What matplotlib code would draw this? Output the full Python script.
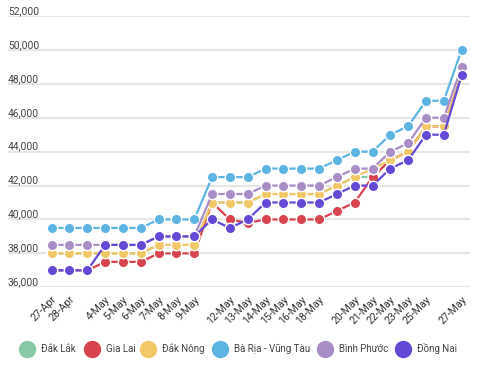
import matplotlib
matplotlib.use("Agg")
import matplotlib.pyplot as plt

plt.rcParams['font.family'] = ['Roboto', 'DejaVu Sans']

dates = ['27-Apr', '28-Apr', '29-Apr', '4-May', '5-May', '6-May', '7-May', '8-May',
         '9-May', '10-May', '12-May', '13-May', '14-May', '15-May', '16-May', '18-May',
         '19-May', '20-May', '21-May', '22-May', '23-May', '25-May', '26-May', '27-May']
hidden_labels = ['29-Apr', '10-May', '19-May', '26-May']

dak_lak = [38000, 38000, 38000, 38000, 38000, 38000, 38500, 38500, 38500, 41000, 41000, 41000,
           41500, 41500, 41500, 41500, 42000, 42500, 42500, 43500, 44000, 45500, 45500, 48500]
gia_lai = [37000, 37000, 37000, 37500, 37500, 37500, 38000, 38000, 38000, 41000, 40000, 39800,
           40000, 40000, 40000, 40000, 40500, 41000, 42500, 43500, 44000, 45500, 45500, 48500]
dak_nong = [38000, 38000, 38000, 38000, 38000, 38000, 38500, 38500, 38500, 41000, 41000, 41000,
            41500, 41500, 41500, 41500, 42000, 42500, 43000, 43500, 44000, 45500, 45500, 48500]
ba_ria = [39500, 39500, 39500, 39500, 39500, 39500, 40000, 40000, 40000, 42500, 42500, 42500,
          43000, 43000, 43000, 43000, 43500, 44000, 44000, 45000, 45500, 47000, 47000, 50000]
binh_phuoc = [38500, 38500, 38500, 38500, 38500, 38500, 39000, 39000, 39000, 41500, 41500, 41500,
              42000, 42000, 42000, 42000, 42500, 43000, 43000, 44000, 44500, 46000, 46000, 49000]
dong_nai = [37000, 37000, 37000, 38500, 38500, 38500, 39000, 39000, 39000, 40000, 39500, 40000,
            41000, 41000, 41000, 41000, 41500, 42000, 42000, 43000, 43500, 45000, 45000, 48500]

series = [
    ('Đắk Lắk', dak_lak, '#86c9a4'),
    ('Gia Lai', gia_lai, '#d9434e'),
    ('Đắk Nông', dak_nong, '#f1c865'),
    ('Bà Rịa - Vũng Tàu', ba_ria, '#5cb4e3'),
    ('Bình Phước', binh_phuoc, '#a88dc6'),
    ('Đồng Nai', dong_nai, '#6448d6'),
]
y_ticks = [36000, 38000, 40000, 42000, 44000, 46000, 48000, 50000, 52000]

W, H = 480, 367
fig = plt.figure(figsize=(W / 100, H / 100), dpi=100)
ax = fig.add_axes([8 / W, (H - 287.3) / H, 462 / W, (287.3 - 16) / H])

x = list(range(len(dates)))
for name, vals, col in series:
    ax.plot(x, vals, color=col, lw=1.6, marker='o', ms=7.5, mfc=col,
            mec='white', mew=1.0, zorder=3, label=name)

ax.set_ylim(36000, 52000)
ax.set_xlim(-2.45, 23.47)
for yv in y_ticks:
    ax.axhline(yv, color='#e6e6e6', lw=1.6, zorder=1)
    ax.text(0, yv, f'{yv:,}', transform=ax.get_yaxis_transform(),
            ha='left', va='bottom', fontsize=7.4, color='#444444')
ax.set_yticks([])
ax.set_xticks(x)
ax.set_xticklabels(['' if d in hidden_labels else d for d in dates],
                   rotation=45, ha='right', rotation_mode='anchor',
                   fontsize=7.6, color='#333333')
ax.tick_params(axis='x', length=0, pad=5)
for s in ax.spines.values():
    s.set_visible(False)

# legend drawn manually (circle + label), positions in figure pixels
leg_x = [27, 92, 148, 220, 325, 403]
leg_y = H - 349
for (name, _, col), lx in zip(series, leg_x):
    fig.add_artist(plt.Line2D([lx / W], [leg_y / H], ls='none', marker='o', ms=11.5,
                              mfc=col, mec=col, transform=fig.transFigure))
    fig.text((lx + 14) / W, leg_y / H, name, ha='left', va='center',
             fontsize=7.0, color='#444444')

fig.savefig('out.png', dpi=100, facecolor='white')
